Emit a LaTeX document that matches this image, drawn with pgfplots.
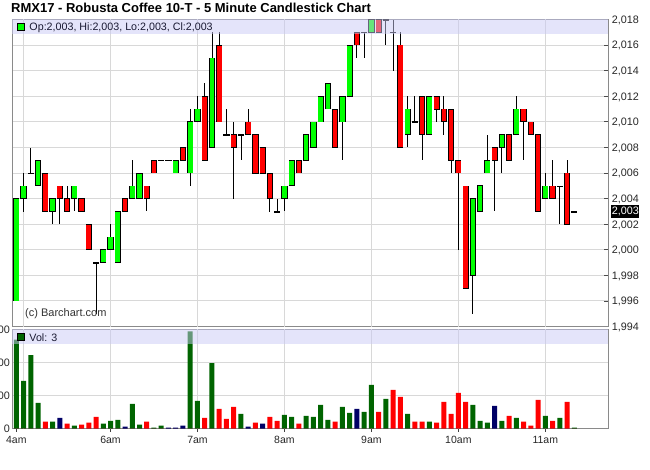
\documentclass[border=0pt]{standalone}
\usepackage{pgfplots}
\pgfplotsset{compat=1.18}
\usepackage{pgfplotstable}
\usepackage{fontspec}
\setmainfont{Liberation Sans}

\definecolor{candgreen}{RGB}{0,255,0}
\definecolor{candred}{RGB}{255,0,0}
\definecolor{volgreen}{RGB}{0,100,0}
\definecolor{volred}{RGB}{255,0,0}
\definecolor{volnavy}{RGB}{0,0,102}
\definecolor{gridgray}{RGB}{216,216,216}
\definecolor{bordergray}{RGB}{138,138,138}
\definecolor{bandfill}{RGB}{202,202,245}
\definecolor{legtext}{RGB}{25,25,50}

\pgfplotsset{
  candlebar/.style 2 args={draw=none, mark=none, forget plot,
    error bars/.cd, y dir=both, y explicit, error mark=none,
    error bar style={draw=#1, line width=#2, line cap=butt}, /pgfplots/.cd},
  volbar/.style={ybar, bar width=5bp, bar shift=0pt, fill=#1, draw=none, forget plot},
}

% candle data: bar index, open, high, low, close, d (1 = close >= open, 2 = close < open)
\pgfplotstableread{
i o h l c d
1 1996 2004 1996 2004 1
2 2004 2006 2003 2005 1
3 2006 2008 2006 2006 1
4 2005 2007 2005 2007 1
5 2006 2006 2003 2003 2
6 2003 2004 2002 2004 1
7 2005 2005 2002 2004 2
8 2004 2005 2003 2003 2
9 2004 2005 2003 2005 1
10 2004 2004 2003 2003 2
11 2002 2002 2000 2000 2
12 1999 1999 1995 1999 1
13 1999 2000 1999 2000 1
14 2000 2002 2000 2001 1
15 1999 2003 1999 2003 1
16 2004 2004 2003 2003 2
17 2004 2007 2004 2005 1
18 2004 2006 2004 2006 1
19 2005 2005 2003 2004 2
20 2007 2007 2006 2006 2
21 2007 2007 2007 2007 1
22 2007 2007 2007 2007 1
23 2006 2007 2006 2007 1
24 2008 2008 2007 2007 2
25 2006 2011 2005 2010 1
26 2010 2012 2010 2011 1
27 2012 2013 2007 2007 2
28 2008 2017 2008 2015 1
29 2016 2017 2010 2010 2
30 2009 2011 2009 2009 1
31 2009 2010 2004 2008 2
32 2009 2009 2007 2009 1
33 2010 2011 2009 2009 2
34 2009 2009 2006 2006 2
35 2008 2008 2006 2006 2
36 2006 2006 2003 2004 2
37 2003 2004 2003 2003 1
38 2004 2005 2003 2005 1
39 2005 2007 2005 2007 1
40 2007 2007 2006 2006 2
41 2007 2009 2007 2009 1
42 2008 2010 2008 2010 1
43 2010 2012 2010 2012 1
44 2011 2013 2011 2013 1
45 2011 2011 2008 2008 2
46 2010 2012 2007 2012 1
47 2012 2016 2012 2016 1
48 2017 2017 2015 2016 2
49 2017 2017 2015 2017 1
50 2017 2018 2017 2018 1
51 2018 2018 2017 2017 2
52 2018 2018 2016 2018 1
53 2017 2018 2014 2017 1
54 2016 2017 2008 2008 2
55 2009 2012 2008 2011 1
56 2010 2012 2010 2010 1
57 2012 2012 2007 2009 2
58 2009 2012 2009 2012 1
59 2012 2012 2010 2011 2
60 2011 2012 2009 2010 2
61 2011 2011 2006 2007 2
62 2007 2007 2000 2006 2
63 2005 2005 1997 1997 2
64 1998 2004 1995 2004 1
65 2003 2005 2003 2005 1
66 2006 2009 2006 2007 1
67 2008 2008 2003 2007 2
68 2008 2009 2006 2009 1
69 2009 2009 2007 2007 2
70 2009 2012 2009 2011 1
71 2011 2011 2007 2010 2
72 2010 2010 2009 2009 2
73 2009 2009 2003 2003 2
74 2004 2006 2004 2005 1
75 2005 2007 2004 2004 2
76 2005 2005 2002 2005 1
77 2006 2007 2002 2002 2
78 2003 2003 2003 2003 1
}\candles

% volume: bar index, volume, colour code (1 up, 2 down, 0 unchanged)
\pgfplotstableread{
i v k
1 269 1
2 144 1
3 222 1
4 78 1
5 21 2
6 21 1
7 33 0
8 15 2
9 9 1
10 12 2
11 18 2
12 36 2
13 15 1
14 24 1
15 27 1
16 6 0
17 75 1
18 12 1
19 21 2
20 3 1
21 9 1
22 3 0
23 3 0
24 9 0
25 294 1
26 84 1
27 33 2
28 198 1
29 60 2
30 30 2
31 66 2
32 45 1
33 6 0
34 18 2
35 15 0
36 36 2
37 24 2
38 42 1
39 36 1
40 15 2
41 39 1
42 36 1
43 72 1
44 27 1
45 21 2
46 66 1
47 48 1
48 60 0
49 51 1
50 132 1
51 51 2
52 90 1
53 117 2
54 96 2
55 45 1
56 21 2
57 21 2
58 21 1
59 18 2
60 81 2
61 45 2
62 108 2
63 81 2
64 72 1
65 24 1
66 18 1
67 69 0
68 24 1
69 39 2
70 33 1
71 21 2
72 9 2
73 87 2
74 39 1
75 24 2
76 33 1
77 81 2
78 3 1
}\vols

\begin{document}
\begin{tikzpicture}[x=1bp,y=1bp]
% ---------------- price panel ----------------
\begin{axis}[
  scale only axis, width=596bp, height=307bp,
  at={(12.3bp,-326.5bp)}, anchor=south west,
  xmin=0.448, xmax=82.69, ymin=1994, ymax=2018,
  axis line style={draw=bordergray, line width=0.9bp},
  xtick=\empty,
  extra x ticks={2,14,26,38,50,62,74},
  extra x tick labels={},
  extra x tick style={grid=major, major tick length=0pt},
  ytick={1994,1996,...,2018},
  ymajorgrids,
  grid style={draw=gridgray, line width=0.9bp},
  ytick pos=right, yticklabel pos=right, ytick align=inside,
  major tick length=4.5bp,
  y tick style={draw=black!70, line width=0.8bp},
  scaled y ticks=false,
  y tick label style={/pgf/number format/.cd, 1000 sep={,}, assume math mode=true, /tikz/.cd,
    font=\fontsize{10.8bp}{13bp}\selectfont, text=black!85, anchor=base west,
    inner sep=0pt, xshift=3.4bp, yshift=-3.9bp},
]
% wicks
\addplot[candlebar={black}{0.9bp}]
  table[x=i, y expr={(\thisrow{h}+\thisrow{l})/2}, y error expr={(\thisrow{h}-\thisrow{l})/2}] {\candles};
% body outlines
\addplot[candlebar={black}{6.2bp}]
  table[x=i, y expr={(\thisrow{o}+\thisrow{c})/2}, y error expr={abs(\thisrow{c}-\thisrow{o})/2+0.031}] {\candles};
% body fills (zero length where the colour does not apply)
\addplot[candlebar={candgreen}{4.6bp}]
  table[x=i, y expr={(\thisrow{o}+\thisrow{c})/2},
        y error expr={\thisrow{d}==1 ? max(abs(\thisrow{c}-\thisrow{o})/2-0.031,0) : 0}] {\candles};
\addplot[candlebar={candred}{4.6bp}]
  table[x=i, y expr={(\thisrow{o}+\thisrow{c})/2},
        y error expr={\thisrow{d}==2 ? max(abs(\thisrow{c}-\thisrow{o})/2-0.031,0) : 0}] {\candles};
\end{axis}
% ---------------- volume panel ----------------
\begin{axis}[
  scale only axis, width=596bp, height=99.4bp,
  at={(12.3bp,-428.7bp)}, anchor=south west,
  xmin=0.448, xmax=82.69, ymin=0, ymax=300,
  axis line style={draw=bordergray, line width=0.9bp},
  xtick={1,14,26,38,50,62,74},
  xticklabels={4am,6am,7am,8am,9am,10am,11am},
  xtick pos=bottom, xtick align=outside,
  major tick length=3bp,
  x tick style={draw=black!75, line width=0.8bp},
  extra x ticks={2,14,26,38,50,62,74}, extra x tick labels={},
  extra x tick style={grid=major, major tick length=0pt},
  ytick={0,100,200,300}, ymajorgrids, ytick pos=left,
  y tick style={draw=none},
  grid style={draw=gridgray, line width=0.9bp},
  x tick label style={font=\fontsize{10.5bp}{12bp}\selectfont, text=black!85,
    anchor=base, inner sep=0pt, yshift=-11.6bp},
  y tick label style={/pgf/number format/assume math mode=true,
    font=\fontsize{10.8bp}{13bp}\selectfont, text=black!85,
    anchor=base east, inner sep=0pt, xshift=-2.3bp, yshift=-3.9bp},
]
\addplot[volbar=volgreen] table[x=i, y expr={\thisrow{k}==1 ? \thisrow{v} : 0}] {\vols};
\addplot[volbar=volred]   table[x=i, y expr={\thisrow{k}==2 ? \thisrow{v} : 0}] {\vols};
\addplot[volbar=volnavy]  table[x=i, y expr={\thisrow{k}==0 ? \thisrow{v} : 0}] {\vols};
\end{axis}
% ---------------- legend bands and texts ----------------
\fill[bandfill, fill opacity=0.5] (12.3,-19.5) rectangle (608.3,-34.3);
\fill[bandfill, fill opacity=0.5] (12.3,-329.3) rectangle (608.3,-344);
\filldraw[fill=candgreen, draw=black, line width=0.8bp] (17.6,-23.6) rectangle (24,-30);
\node[anchor=base west, inner sep=0pt, font=\fontsize{10.7bp}{12bp}\selectfont, text=legtext] at (29.3,-31) {Op:2,003, Hi:2,003, Lo:2,003, Cl:2,003};
\filldraw[fill=volgreen, draw=black, line width=0.8bp] (17.6,-333.6) rectangle (24.2,-340.2);
\node[anchor=base west, inner sep=0pt, font=\fontsize{10.7bp}{12bp}\selectfont, text=legtext] at (29.3,-341) {Vol: 3};
\node[anchor=base west, inner sep=0pt, font=\fontsize{11bp}{13bp}\selectfont, text=black!80] at (25,-316.5) {(c) Barchart.com};
\node[anchor=base west, inner sep=0pt, font=\bfseries\fontsize{13bp}{15bp}\selectfont] at (11,-13) {RMX17 - Robusta Coffee 10-T - 5 Minute Candlestick Chart};
\node[fill=black, text=white, anchor=west, inner xsep=0.5bp, inner ysep=2.3bp, font=\fontsize{10.8bp}{13bp}\selectfont] at (611.2,-211.4) {2,003};
\pgfresetboundingbox
\path[use as bounding box] (0,0) rectangle (650,-470);
\end{tikzpicture}
\end{document}
